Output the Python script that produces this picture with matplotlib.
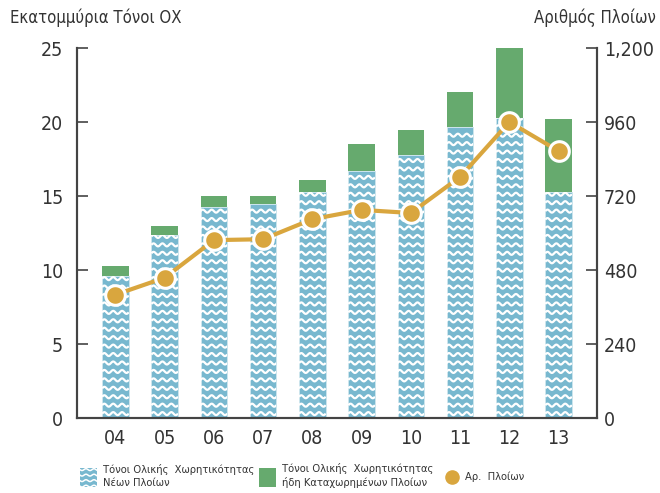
import numpy as np
import matplotlib.pyplot as plt
from matplotlib.patches import Rectangle

plt.rcParams['font.family'] = ['DejaVu Sans']
plt.rcParams['font.stretch'] = 'condensed'

years = ['04', '05', '06', '07', '08', '09', '10', '11', '12', '13']
new_tons = [9.6, 12.4, 14.25, 14.45, 15.3, 16.7, 17.8, 19.65, 20.3, 15.3]
total_tons = [10.3, 13.0, 15.0, 15.0, 16.1, 18.5, 19.45, 22.0, 25.2, 20.2]
ships = [400, 455, 577, 580, 645, 675, 665, 782, 960, 866]

BLUE = '#78b8cf'
GREEN = '#66aa6e'
ORANGE = '#d9a63e'
SPINE = '#444444'
TEXT = '#333333'

registered = [t - n for t, n in zip(total_tons, new_tons)]
x = np.arange(len(years))
w = 0.54

fig = plt.figure(figsize=(6.6, 4.93), dpi=100)
ax = fig.add_axes([0.1167, 0.152, 0.7878, 0.7506])

bars = ax.bar(x, new_tons, w, color=BLUE, edgecolor='#cfe6ee', linewidth=0.6, zorder=2)
ax.bar(x, registered, w, bottom=new_tons, color=GREEN, linewidth=0, zorder=2)

# white wavy lines inside the blue bars
for b in bars:
    x0 = b.get_x()
    h = b.get_height()
    xs = np.linspace(x0, x0 + w, 80)
    for yb in np.arange(0.3, h, 0.57):
        ln, = ax.plot(xs, yb + 0.1 * np.sin((xs - x0) / 0.18 * 2 * np.pi),
                      color='white', lw=1.6, zorder=3, solid_capstyle='butt')
        ln.set_clip_path(b)

ax.set_xlim(-0.78, len(years) - 0.22)
ax.set_ylim(0, 25)
ax.set_yticks([0, 5, 10, 15, 20, 25])
ax.set_xticks(x)
ax.set_xticklabels(years)
ax.spines['top'].set_visible(False)
for s in ['left', 'bottom', 'right']:
    ax.spines[s].set_color(SPINE)
    ax.spines[s].set_linewidth(1.5)
ax.tick_params(axis='y', direction='in', length=8, width=1.2, color=SPINE,
               labelsize=14, labelcolor=TEXT, pad=10)
ax.tick_params(axis='x', length=0, labelsize=14, labelcolor=TEXT, pad=8)

ax2 = ax.twinx()
ax2.plot(x, ships, color=ORANGE, lw=3, zorder=4)
ax2.scatter(x, ships, s=200, color=ORANGE, edgecolor='white', linewidth=2.2, zorder=5)
ax2.set_ylim(0, 1200)
ax2.set_yticks([0, 240, 480, 720, 960, 1200])
ax2.set_yticklabels(['0', '240', '480', '720', '960', '1,200'])
ax2.spines['top'].set_visible(False)
for s in ['left', 'bottom', 'right']:
    ax2.spines[s].set_color(SPINE)
    ax2.spines[s].set_linewidth(1.5)
ax2.tick_params(axis='y', direction='in', length=8, width=1.2, color=SPINE,
                labelsize=14, labelcolor=TEXT, pad=5)

fig.text(0.015, 0.963, 'Εκατομμύρια Τόνοι ΟΧ', fontsize=12, color=TEXT, va='center')
fig.text(0.993, 0.963, 'Αριθμός Πλοίων', fontsize=12, color=TEXT, va='center', ha='right')

# legend drawn by hand in pixel-like coordinates
lg = fig.add_axes([0, 0, 1, 0.09])
lg.set_xlim(0, 660)
lg.set_ylim(44.37, 0)
lg.axis('off')
sw = Rectangle((80, 19), 17, 19, color=BLUE, lw=0)
lg.add_patch(sw)
xs = np.linspace(80, 97, 40)
for yb in [21, 26.5, 32, 37.5]:
    ln, = lg.plot(xs, yb + 0.9 * np.sin((xs - 80) / 8 * 2 * np.pi), color='white', lw=1.1)
    ln.set_clip_path(sw)
lg.text(103, 27, 'Τόνοι Ολικής  Χωρητικότητας\nΝέων Πλοίων', fontsize=8,
        color=TEXT, va='center', linespacing=1.4)
lg.add_patch(Rectangle((259, 19), 17, 19, color=GREEN, lw=0))
lg.text(282, 27, 'Τόνοι Ολικής  Χωρητικότητας\nήδη Καταχωρημένων Πλοίων', fontsize=8,
        color=TEXT, va='center', linespacing=1.4)
lg.scatter([452], [28], s=90, color=ORANGE)
lg.text(465, 28, 'Αρ.  Πλοίων', fontsize=8, color=TEXT, va='center')

fig.savefig('out.png', dpi=100)
